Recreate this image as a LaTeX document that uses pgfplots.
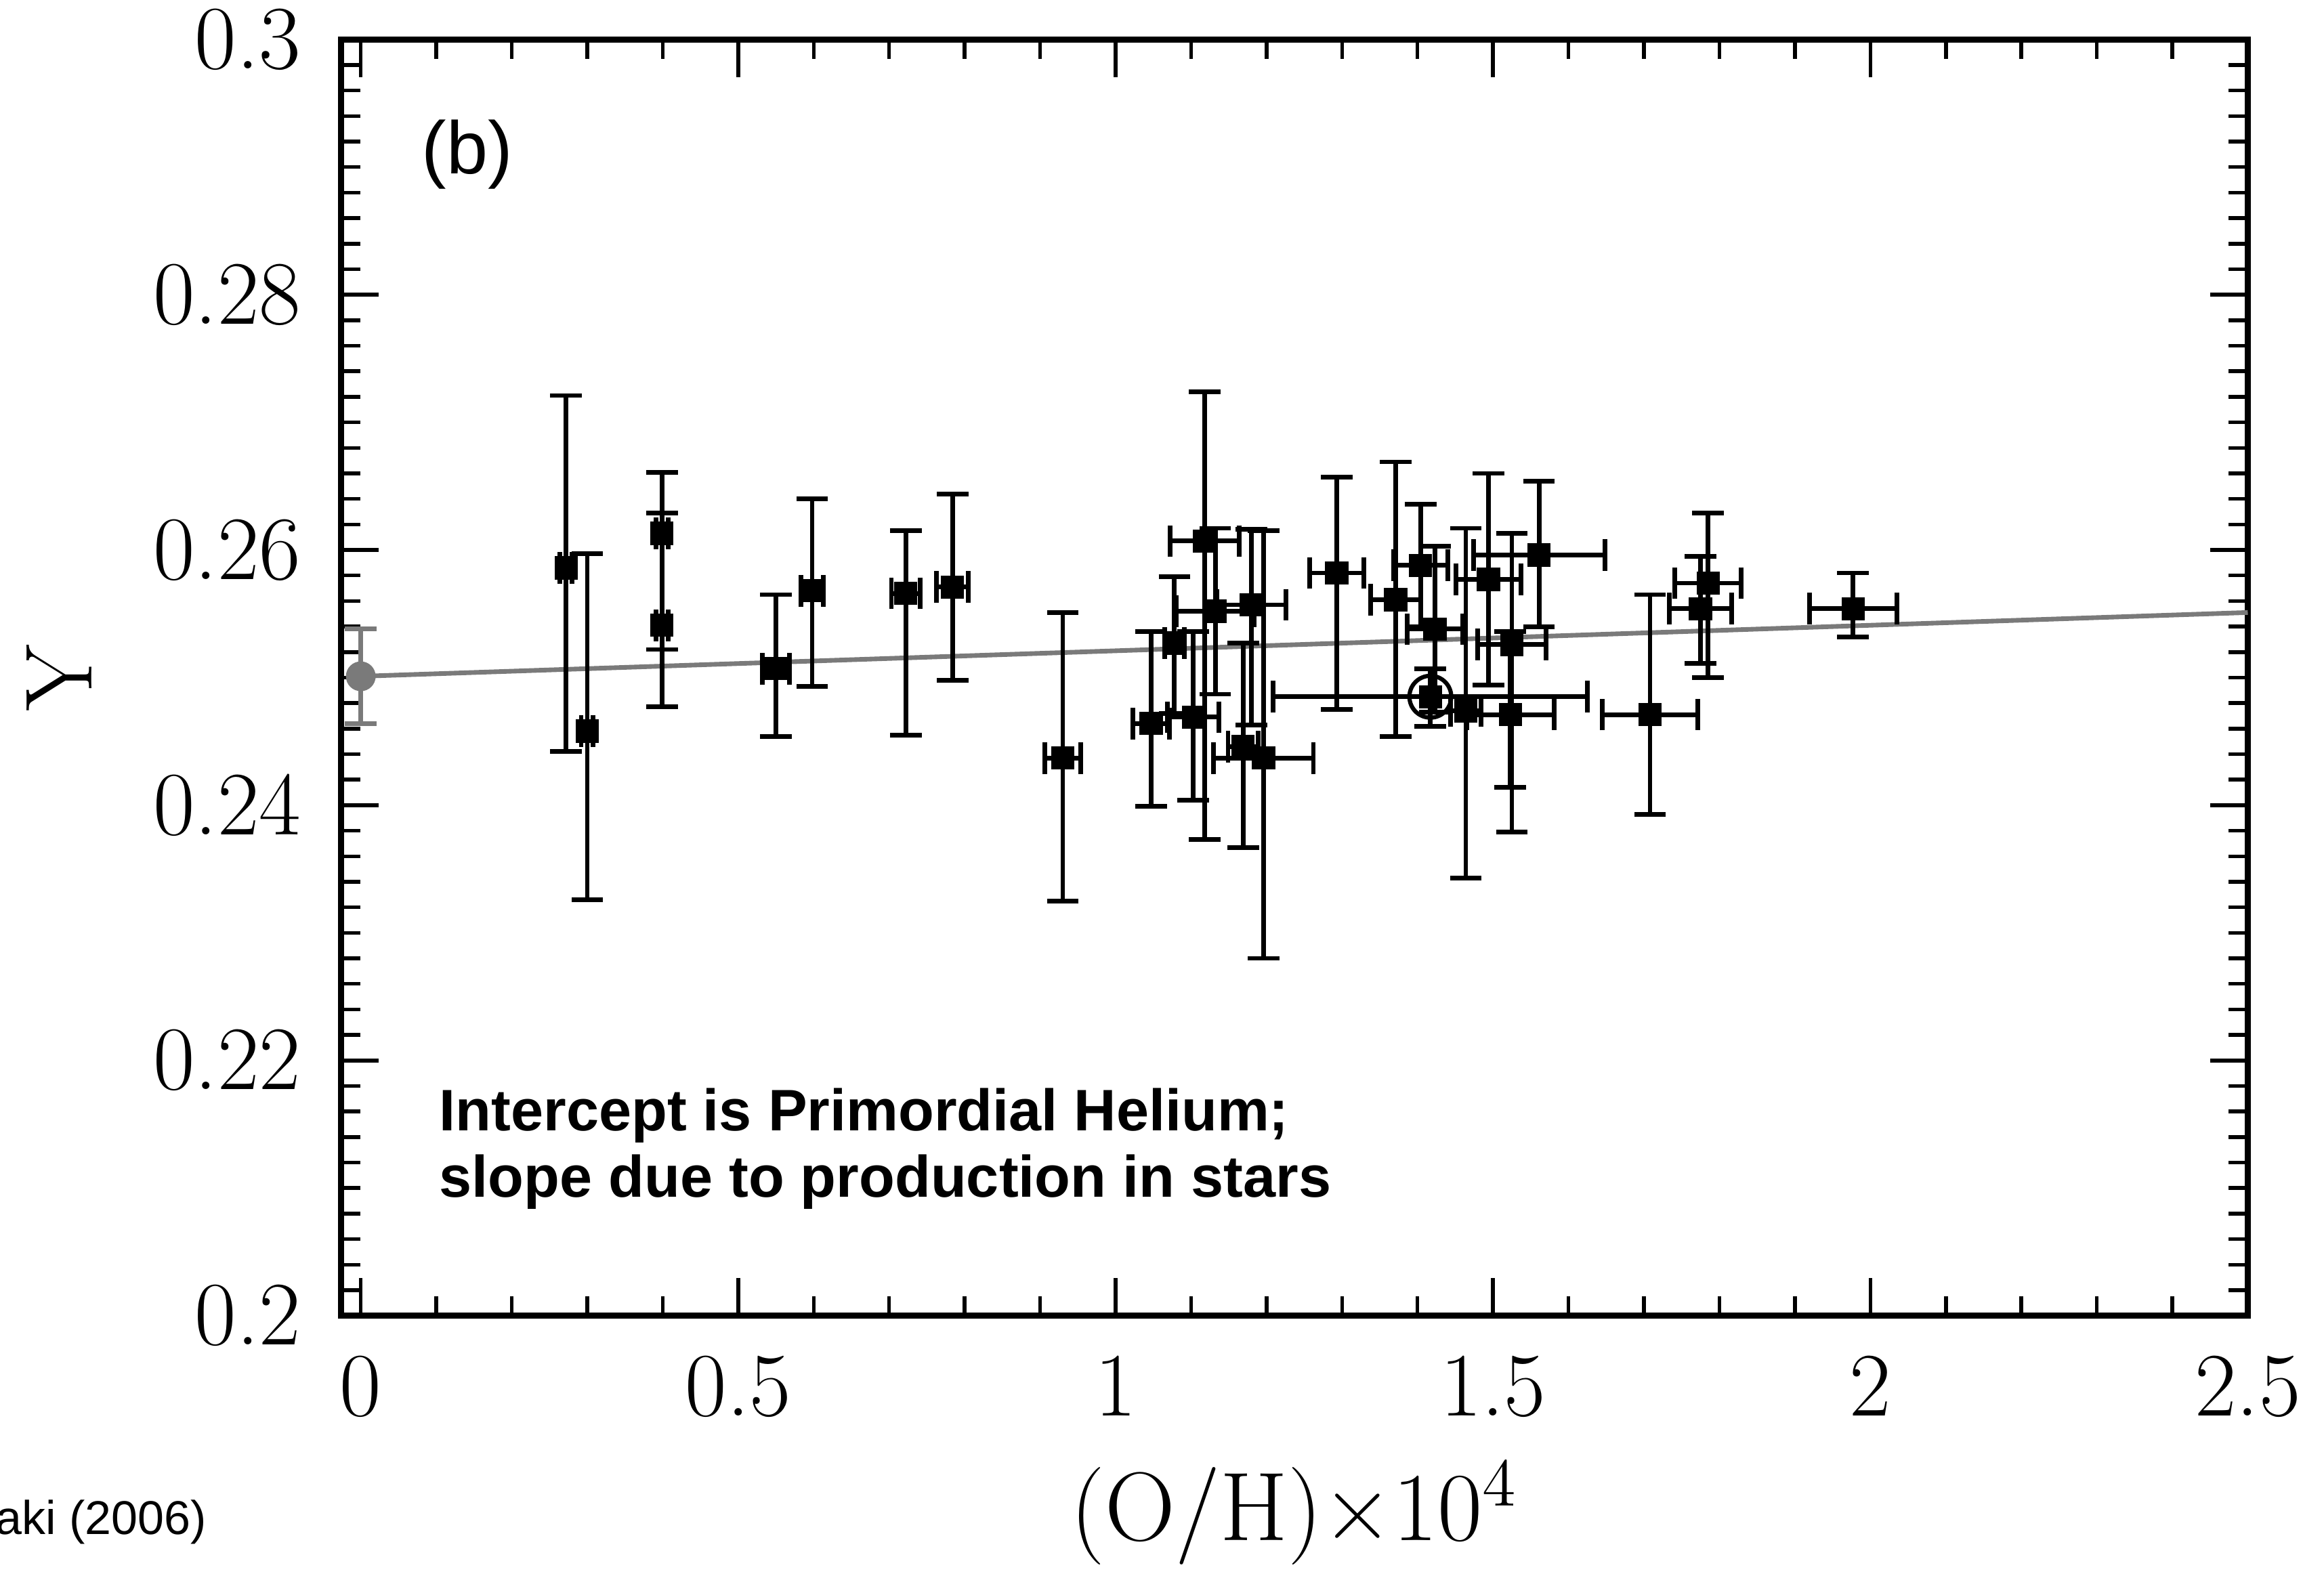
\documentclass[border=0pt]{standalone}
\usepackage{fontspec}
\usepackage{pgfplots}
\pgfplotsset{compat=1.18}
\usepackage{pgfplotstable}
\newfontfamily\helv{Liberation Sans}
\definecolor{refgray}{RGB}{122,122,122}

\pgfplotstableread{
x     y      ex     eyp     eym
0.272 0.2586 0.008  0.0135  0.0144
0.300 0.2458 0.008  0.0139  0.0132
0.399 0.2613 0.008  0.0048  0.0091
0.399 0.2541 0.008  0.0088  0.0064
0.550 0.2507 0.018  0.0058  0.0053
0.598 0.2568 0.015  0.0072  0.0075
0.722 0.2566 0.019  0.0049  0.0111
0.784 0.2571 0.021  0.0073  0.0073
0.930 0.2437 0.024  0.0114  0.0112
1.047 0.2464 0.024  0.0072  0.0065
1.078 0.2527 0.013  0.0052  0.0055
1.118 0.2607 0.046  0.0117  0.0234
1.132 0.2552 0.052  0.0065  0.0065
1.180 0.2557 0.046  0.0059  0.0094
1.103 0.2469 0.034  0.0067  0.0065
1.169 0.2446 0.020  0.0081  0.0079
1.196 0.2437 0.066  0.0178  0.0157
1.293 0.2582 0.036  0.0075  0.0107
1.371 0.2561 0.033  0.0108  0.0107
1.404 0.2588 0.036  0.0048  0.0048
1.423 0.2538 0.037  0.0065  0.0065
1.417 0.2485 0.208  0.0022  0.0023
1.464 0.2474 0.020  0.0143  0.0131
1.494 0.2577 0.043  0.0083  0.0083
1.561 0.2596 0.087  0.0058  0.0056
1.523 0.2471 0.058  0.0065  0.0057
1.525 0.2526 0.045  0.0087  0.0147
1.708 0.2471 0.063  0.0094  0.0078
1.785 0.2574 0.044  0.0055  0.0074
1.775 0.2554 0.041  0.0041  0.0043
1.977 0.2554 0.058  0.0028  0.0022
}\data

\begin{document}
\begin{tikzpicture}
\begin{axis}[
  at={(73.4bp,55.9bp)}, anchor=south west,
  scale only axis, width=410.2bp, height=274.6bp,
  xmin=-0.026, xmax=2.5, ymin=0.2, ymax=0.3,
  xtick={0,0.5,1,1.5,2,2.5},
  ytick={0.2,0.22,0.24,0.26,0.28,0.3},
  minor x tick num=4, minor y tick num=9,
  tick align=inside, xtick pos=both, ytick pos=both,
  major tick length=8.1bp, minor tick length=4.2bp,
  every tick/.style={black, line width=0.8bp},
  axis line style={line width=1.3bp},
  /pgf/number format/assume math mode=true,
  tick label style={font=\fontsize{19.5bp}{19.5bp}\selectfont},
  yticklabel style={/pgf/number format/fixed, /pgf/number format/precision=2, inner sep=0pt, xshift=-8.5bp},
  xticklabel style={inner sep=0pt, yshift=-8.5bp},
  xlabel={(O/H)\texttimes10\textsuperscript{4}},
  xlabel style={at={(axis description cs:0.5,0)}, anchor=base, yshift=-48.4bp, inner sep=0pt, font=\fontsize{21bp}{21bp}\selectfont},
  ylabel={Y},
  ylabel style={at={(axis description cs:-0.148,0.5)}, anchor=center, inner sep=0pt, font=\fontsize{20.5bp}{20.5bp}\selectfont},
]
\addplot[refgray, line width=1bp, no marks] coordinates {(0,0.2501) (2.5,0.2551)};
\addplot[only marks, mark=*, mark size=3bp, color=refgray,
  error bars/.cd, y dir=both, y explicit,
  error bar style={line width=1bp, refgray},
  error mark options={rotate=90, mark size=3.4bp, line width=1bp, refgray}]
  coordinates {(0,0.2501) +- (0,0.0037)};
\addplot[only marks, mark=square*, mark size=2.3bp, black,
  error bars/.cd, x dir=both, x explicit, y dir=both, y explicit,
  error bar style={line width=1bp, black},
  error mark options={rotate=90, mark size=3.4bp, line width=1bp, black}]
  table[x=x, y=y, x error=ex, y error plus=eyp, y error minus=eym]{\data};
\addplot[only marks, mark=o, mark size=4.5bp, line width=0.9bp, black] coordinates {(1.417,0.2485)};
\node[inner sep=0pt, font=\helv\fontsize{16bp}{16bp}\selectfont] at (axis cs:0.141,0.2910) {(b)};
\node[anchor=base west, inner sep=0pt, font=\helv\bfseries\fontsize{12.6bp}{12.6bp}\selectfont] at (axis cs:0.103,0.2145) {Intercept is Primordial Helium;};
\node[anchor=base west, inner sep=0pt, font=\helv\bfseries\fontsize{12.6bp}{12.6bp}\selectfont] at (axis cs:0.103,0.2093) {slope due to production in stars};
\end{axis}
\node[anchor=base east, inner sep=0pt, font=\helv\fontsize{10.2bp}{10.2bp}\selectfont] at (44.6bp,8.9bp) {aki (2006)};
\pgfresetboundingbox
\path[use as bounding box] (0,0) rectangle (500bp,339bp);
\end{tikzpicture}
\end{document}
